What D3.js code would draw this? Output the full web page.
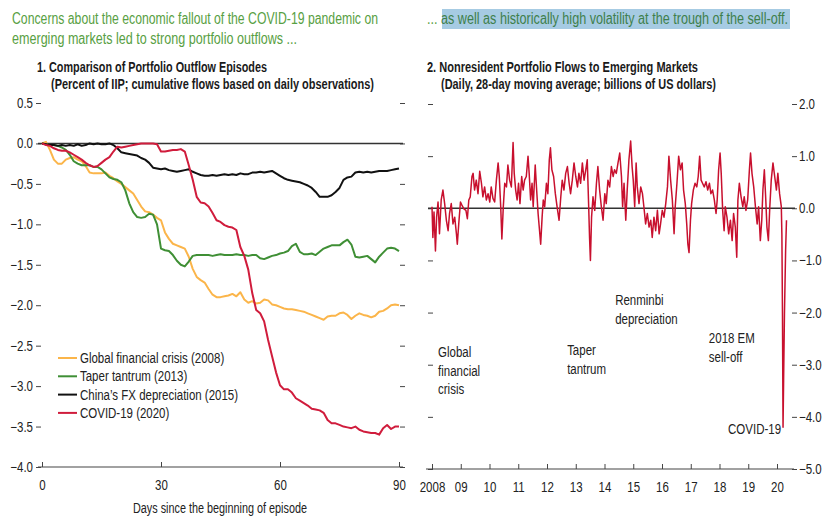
<!DOCTYPE html>
<html>
<head>
<meta charset="utf-8">
<script src="https://cdn.jsdelivr.net/npm/d3@7"></script>
<style>
  body { margin: 0; background: #fff; }
  svg { display: block; font-family: "Liberation Sans", Arial, sans-serif; }
</style>
</head>
<body>
<svg id="chart" width="824" height="520"></svg>
<script>
const width = 824
const height = 520

// headings
const headlineLeft = [
  "Concerns about the economic fallout of the COVID-19 pandemic on",
  "emerging markets led to strong portfolio outflows ...",
]
const headlineRight = "as well as historically high volatility at the trough of the sell-off."
const panel1Title = ["1. Comparison of Portfolio Outflow Episodes", "(Percent of IIP; cumulative flows based on daily observations)"]
const panel2Title = ["2. Nonresident Portfolio Flows to Emerging Markets", "(Daily, 28-day moving average; billions of US dollars)"]

// panel 1: cumulative outflows, percent of IIP, day 0..90
const episodeNames = ["Global financial crisis (2008)", "Taper tantrum (2013)", "China\u2019s FX depreciation (2015)", "COVID-19 (2020)"]
const gfc2008 = [0, 0.02, -0.08, -0.2, -0.25, -0.25, -0.2, -0.18, -0.17, -0.2, -0.22, -0.28, -0.36, -0.37, -0.37, -0.37, -0.36, -0.4, -0.43, -0.47,
  -0.5, -0.54, -0.58, -0.62, -0.7, -0.78, -0.84, -0.85, -0.88, -0.92, -0.95, -1.1, -1.18, -1.24, -1.26, -1.28, -1.3, -1.4, -1.55, -1.65,
  -1.69, -1.72, -1.8, -1.87, -1.9, -1.9, -1.89, -1.88, -1.86, -1.89, -1.84, -1.93, -1.97, -1.95, -1.98, -1.97, -1.93, -1.94, -1.99, -2.0,
  -2.02, -2.04, -2.05, -2.05, -2.06, -2.07, -2.08, -2.1, -2.12, -2.14, -2.16, -2.18, -2.14, -2.13, -2.13, -2.1, -2.09, -2.12, -2.17, -2.13,
  -2.1, -2.12, -2.13, -2.15, -2.13, -2.08, -2.07, -2.04, -2.0, -1.99, -2.0]
const taper2013 = [0, -0.01, -0.02, -0.02, -0.03, -0.05, -0.08, -0.14, -0.22, -0.25, -0.27, -0.27, -0.27, -0.29, -0.29, -0.32, -0.37, -0.42, -0.44, -0.45,
  -0.48, -0.58, -0.74, -0.85, -0.91, -0.92, -0.91, -0.87, -0.88, -1.0, -1.3, -1.32, -1.33, -1.38, -1.45, -1.5, -1.52, -1.46, -1.39, -1.38,
  -1.38, -1.38, -1.38, -1.39, -1.38, -1.37, -1.38, -1.38, -1.38, -1.37, -1.38, -1.38, -1.39, -1.38, -1.38, -1.42, -1.43, -1.41, -1.39, -1.38,
  -1.36, -1.35, -1.33, -1.27, -1.24, -1.34, -1.37, -1.37, -1.36, -1.38, -1.34, -1.3, -1.28, -1.26, -1.26, -1.26, -1.22, -1.19, -1.25, -1.4,
  -1.41, -1.4, -1.39, -1.43, -1.47, -1.4, -1.35, -1.3, -1.29, -1.3, -1.33]
const china2015 = [0, -0.01, -0.02, -0.02, -0.03, -0.02, -0.03, -0.02, -0.03, -0.01, -0.03, -0.02, 0.0, -0.01, 0.0, -0.01, -0.01, 0.0, -0.02, -0.06,
  -0.11, -0.12, -0.13, -0.14, -0.15, -0.18, -0.2, -0.24, -0.3, -0.31, -0.32, -0.31, -0.33, -0.34, -0.35, -0.34, -0.33, -0.32, -0.35, -0.37,
  -0.39, -0.4, -0.4, -0.39, -0.4, -0.39, -0.38, -0.39, -0.38, -0.39, -0.37, -0.38, -0.38, -0.36, -0.36, -0.35, -0.36, -0.35, -0.34, -0.37,
  -0.4, -0.43, -0.45, -0.46, -0.47, -0.48, -0.5, -0.52, -0.55, -0.6, -0.66, -0.66, -0.66, -0.64, -0.6, -0.55, -0.45, -0.42, -0.41, -0.36,
  -0.35, -0.36, -0.35, -0.36, -0.35, -0.34, -0.34, -0.34, -0.33, -0.32, -0.31]
const covid2020 = [0, -0.02, -0.03, -0.06, -0.08, -0.09, -0.09, -0.11, -0.14, -0.17, -0.2, -0.24, -0.27, -0.29, -0.28, -0.24, -0.2, -0.17, -0.1, -0.04,
  -0.05, -0.04, -0.03, -0.02, -0.01, 0.0, 0.0, 0.0, 0.0, -0.01, -0.1, -0.1, -0.09, -0.08, -0.08, -0.07, -0.1, -0.27, -0.45, -0.66,
  -0.73, -0.74, -0.78, -0.86, -0.95, -0.97, -1.01, -1.03, -1.04, -1.07, -1.28, -1.39, -1.56, -1.85, -2.06, -2.1, -2.2, -2.43, -2.63, -2.83,
  -2.99, -3.04, -3.04, -3.08, -3.15, -3.18, -3.21, -3.24, -3.28, -3.29, -3.3, -3.33, -3.42, -3.46, -3.46, -3.48, -3.5, -3.51, -3.52, -3.5,
  -3.54, -3.56, -3.57, -3.58, -3.58, -3.6, -3.52, -3.48, -3.53, -3.5, -3.5]
const dayTicks = [0, 30, 60, 90]
const pctTicks = [0.5, 0, -0.5, -1, -1.5, -2, -2.5, -3, -3.5, -4]

// panel 2: nonresident flows, billions of US dollars (decimal year, value)
const flowYears = [
  2008.0, 2008.03, 2008.07, 2008.12, 2008.16, 2008.21, 2008.26, 2008.32, 2008.38, 2008.44, 2008.5, 2008.56, 2008.61, 2008.67, 2008.73, 2008.79, 2008.85, 2008.88, 2008.93, 2008.99,
  2009.04, 2009.11, 2009.18, 2009.23, 2009.28, 2009.33, 2009.39, 2009.43, 2009.48, 2009.54, 2009.6, 2009.66, 2009.72, 2009.77, 2009.83, 2009.89, 2009.95,
  2010.01, 2010.06, 2010.12, 2010.18, 2010.24, 2010.3, 2010.34, 2010.39, 2010.43, 2010.48, 2010.53, 2010.59, 2010.64, 2010.7, 2010.76, 2010.82, 2010.86, 2010.91, 2010.96,
  2011.01, 2011.06, 2011.12, 2011.17, 2011.22, 2011.28, 2011.34, 2011.38, 2011.43, 2011.48, 2011.52, 2011.59, 2011.64, 2011.69, 2011.73, 2011.78, 2011.83, 2011.87, 2011.92, 2011.98,
  2012.03, 2012.08, 2012.12, 2012.17, 2012.23, 2012.29, 2012.35, 2012.42, 2012.48, 2012.53, 2012.59, 2012.65, 2012.71, 2012.77, 2012.82, 2012.88, 2012.94,
  2013.0, 2013.06, 2013.11, 2013.17, 2013.23, 2013.29, 2013.35, 2013.4, 2013.45, 2013.48, 2013.51, 2013.55, 2013.6, 2013.66, 2013.72, 2013.77, 2013.83, 2013.89, 2013.95,
  2014.01, 2014.06, 2014.12, 2014.18, 2014.24, 2014.3, 2014.35, 2014.41, 2014.47, 2014.53, 2014.59, 2014.63, 2014.68, 2014.74, 2014.79, 2014.85, 2014.91, 2014.96,
  2015.0, 2015.05, 2015.1, 2015.14, 2015.2, 2015.26, 2015.32, 2015.37, 2015.43, 2015.49, 2015.55, 2015.61, 2015.66, 2015.72, 2015.78, 2015.84, 2015.9, 2015.95,
  2016.01, 2016.07, 2016.13, 2016.19, 2016.24, 2016.3, 2016.36, 2016.42, 2016.46, 2016.52, 2016.58, 2016.64, 2016.7, 2016.75, 2016.81, 2016.86, 2016.9, 2016.94, 2016.99,
  2017.03, 2017.09, 2017.15, 2017.21, 2017.26, 2017.31, 2017.36, 2017.41, 2017.47, 2017.53, 2017.59, 2017.65, 2017.7, 2017.76, 2017.82, 2017.88, 2017.92, 2017.97,
  2018.02, 2018.06, 2018.11, 2018.16, 2018.2, 2018.26, 2018.32, 2018.38, 2018.44, 2018.49, 2018.55, 2018.6, 2018.64, 2018.69, 2018.75, 2018.81, 2018.86, 2018.92, 2018.98,
  2019.04, 2019.08, 2019.13, 2019.19, 2019.25, 2019.31, 2019.36, 2019.42, 2019.47, 2019.51, 2019.56, 2019.61, 2019.65, 2019.7, 2019.75, 2019.8, 2019.86, 2019.92, 2019.98,
  2020.03, 2020.09, 2020.15, 2020.17, 2020.19, 2020.21, 2020.23, 2020.26, 2020.3, 2020.33,
]
const flowValues = [
  0.03, -0.56, -0.07, -0.82, -0.17, 0.12, -0.49, 0.16, 0.35, 0.09, -0.23, -0.43, -0.1, 0.09, -0.3, -0.17, -0.49, -0.69, -0.3, 0.12,
  0.06, -0.01, -0.04, -0.2, 0.16, 0.22, 0.61, 0.67, 0.35, 0.54, 0.28, 0.71, 0.48, 0.22, 0.41, 0.16, 0.28,
  0.12, 0.41, 0.19, 0.12, 0.54, 0.87, 0.61, 0.03, -0.59, 0.03, 0.48, 0.41, 0.83, 0.54, 0.41, 1.26, 0.67, 0.35, 0.16,
  0.48, 0.09, 0.61, 0.35, 0.54, 0.61, 1.0, 0.67, 0.16, 0.48, 0.03, 0.83, 0.35, -0.1, -0.36, -0.69, -0.17, 0.16, 0.03, 0.48,
  0.28, 0.93, 1.16, 0.74, 0.61, 0.28, 0.03, -0.23, 0.22, 0.54, 0.35, 0.67, 0.8, 0.48, 0.28, 0.54, 0.87,
  0.61, 0.41, 0.67, 0.48, 0.87, 0.54, 0.74, 0.93, 0.03, -0.56, -1.0, -0.17, 0.22, -0.04, 0.48, 0.8, 0.35, 0.03, -0.23,
  0.28, 0.09, 0.54, 0.41, 0.8, 0.61, 0.74, 0.67, 0.87, 1.06, 0.61, 0.03, 0.48, -0.23, 0.35, 0.93, 1.29, 0.8,
  0.54, 0.03, 0.87, 0.41, 0.09, 0.41, 0.28, 0.03, -0.3, -0.1, -0.36, -0.23, -0.56, -0.17, -0.43, -0.04, -0.49, -0.3,
  -0.04, -0.17, 0.09, 0.41, 1.0, 0.54, 0.16, -0.49, 0.03, 0.48, 1.0, 0.74, 0.87, 0.35, 0.09, -0.3, -0.69, -0.85, -0.23,
  0.09, 0.35, 0.48, 0.41, 0.61, 1.0, 0.54, 0.48, 0.41, 0.51, 0.35, 0.48, 0.28, 0.35, 0.16, -0.1, 0.16, 0.74,
  1.06, 0.67, -0.04, -0.43, 0.03, -0.17, -0.49, -0.23, -0.62, -0.1, -0.36, -0.94, 0.16, 0.48, 0.22, 0.03, 0.22, -0.04, 0.16,
  0.74, 1.06, 0.67, 0.41, 0.03, -0.3, 0.03, -0.62, -0.23, 0.35, 0.74, 0.16, -0.36, -0.62, 0.03, 0.54, 0.87, 0.61, 0.35,
  0.67, 0.28, 0.03, -0.5, -2.0, -4.2, -3.3, -2.0, -0.8, -0.23,
]
const yearTicks = [2008, 2009, 2010, 2011, 2012, 2013, 2014, 2015, 2016, 2017, 2018, 2019, 2020]
const yearLabels = ["2008", "09", "10", "11", "12", "13", "14", "15", "16", "17", "18", "19", "20"]
const flowTicks = [2, 1, 0, -1, -2, -3, -4, -5]
const eventNames = [["Global", "financial", "crisis"], ["Taper", "tantrum"], ["Renminbi", "depreciation"], ["2018 EM", "sell-off"], ["COVID-19"]]
const eventYears = [2008.21, 2012.7, 2014.37, 2017.63, 2020.14]
const eventValues = [-2.86, -2.82, -1.86, -2.59, -4.33]

const episodeColors = ["#fbb54a", "#3f8f35", "#111111", "#d01c3c"]
const green = "#58a043"
const axisColor = "#444"
const narrow = 0.82 // squeeze Liberation Sans to a narrow face

const svg = d3.select("#chart")
svg.append("rect").attr("width", width).attr("height", height).attr("fill", "#fff")

// headlines
headlineLeft.forEach((t, i) => {
  svg.append("text")
    .attr("x", 12).attr("y", 24 + i * 20)
    .attr("font-size", 16).attr("fill", green)
    .attr("textLength", i === 0 ? 366 : 285).attr("lengthAdjust", "spacingAndGlyphs")
    .text(t)
})
svg.append("rect").attr("x", 442).attr("y", 9).attr("width", 348).attr("height", 20).attr("fill", "#a6cbe3")
const hr = svg.append("text")
  .attr("x", 427).attr("y", 24)
  .attr("font-size", 16)
  .attr("textLength", 361).attr("lengthAdjust", "spacingAndGlyphs")
hr.append("tspan").attr("fill", green).text("... ")
hr.append("tspan").attr("fill", "#3e7f4c").text(headlineRight)

function panelTitle(lines, x, widths) {
  lines.forEach((t, i) => {
    svg.append("text")
      .attr("x", x + (i ? 14 : 0)).attr("y", 72 + i * 17)
      .attr("font-size", 14).attr("font-weight", "bold").attr("fill", "#1a1a1a")
      .attr("textLength", widths[i]).attr("lengthAdjust", "spacingAndGlyphs")
      .text(t)
  })
}
panelTitle(panel1Title, 37, [230, 323])
panelTitle(panel2Title, 427, [271, 275])

function styleAxis(g) {
  g.select(".domain").remove()
  g.selectAll(".tick line").attr("stroke", axisColor)
  g.selectAll(".tick text").attr("font-size", 14).attr("fill", "#222").attr("font-family", null)
}

// ---------- panel 1 ----------
const xL = d3.scaleLinear().domain([0, 90]).range([42, 399])
const yL = d3.scaleLinear().domain([-4, 0.5]).range([467, 103])
const fmt = d3.format(".1f")

svg.append("g").attr("transform", "translate(41,0)")
  .call(d3.axisLeft(yL).tickValues(pctTicks).tickSize(5).tickPadding(3).tickFormat(fmt))
  .call(styleAxis)
svg.append("g").attr("transform", "translate(400,0)")
  .call(d3.axisRight(yL).tickValues(pctTicks).tickSize(5).tickFormat(""))
  .call(styleAxis)

svg.append("line")
  .attr("x1", 38).attr("x2", 403).attr("y1", yL(0)).attr("y2", yL(0))
  .attr("stroke", "#333").attr("stroke-width", 1.5)

svg.append("line")
  .attr("x1", 38).attr("x2", 403).attr("y1", yL(-4)).attr("y2", yL(-4))
  .attr("stroke", axisColor).attr("stroke-width", 1.2)
svg.append("g").attr("transform", `translate(0,${yL(-4)})`)
  .call(d3.axisBottom(xL).tickValues(dayTicks).tickSizeInner(-5).tickSizeOuter(0).tickPadding(13))
  .call(styleAxis)

svg.append("text")
  .attr("x", 220).attr("y", 513).attr("text-anchor", "middle")
  .attr("font-size", 14).attr("fill", "#222")
  .attr("textLength", 174).attr("lengthAdjust", "spacingAndGlyphs")
  .text("Days since the beginning of episode")

const line1 = d3.line().x((d, i) => xL(i)).y((d) => yL(d))
const episodes = [gfc2008, taper2013, china2015, covid2020]
svg.append("g")
  .selectAll("path")
  .data(episodes)
  .join("path")
  .attr("d", line1)
  .attr("fill", "none")
  .attr("stroke", (d, i) => episodeColors[i])
  .attr("stroke-width", 2)
  .attr("stroke-linejoin", "round")

const legend = svg.append("g")
episodeNames.forEach((name, i) => {
  const y = 358 + i * 18.3
  legend.append("line")
    .attr("x1", 58).attr("x2", 77).attr("y1", y).attr("y2", y)
    .attr("stroke", episodeColors[i]).attr("stroke-width", 2)
  legend.append("text")
    .attr("x", 80).attr("y", y + 5)
    .attr("font-size", 14).attr("fill", "#222")
    .text(name)
})

// ---------- panel 2 ----------
const xR = d3.scaleLinear().domain([2008, 2020]).range([432, 777])
const yR = d3.scaleLinear().domain([-5, 2]).range([469, 104])

svg.append("g").attr("transform", "translate(433,0)")
  .call(d3.axisLeft(yR).tickValues(flowTicks).tickSize(5).tickFormat(""))
  .call(styleAxis)
svg.append("g").attr("transform", "translate(792,0)")
  .call(d3.axisRight(yR).tickValues(flowTicks).tickSize(5).tickPadding(2).tickFormat(fmt))
  .call(styleAxis)

svg.append("line")
  .attr("x1", 428).attr("x2", 795).attr("y1", yR(0)).attr("y2", yR(0))
  .attr("stroke", "#333").attr("stroke-width", 1.5)

svg.append("line")
  .attr("x1", 426).attr("x2", 794).attr("y1", yR(-5)).attr("y2", yR(-5))
  .attr("stroke", axisColor).attr("stroke-width", 1.2)
svg.append("g").attr("transform", `translate(0,${yR(-5)})`)
  .call(d3.axisBottom(xR).tickValues(yearTicks).tickSizeInner(-5).tickSizeOuter(0).tickPadding(13)
    .tickFormat((d, i) => yearLabels[i]))
  .call(styleAxis)

const flows = flowYears.map((y, i) => [y, flowValues[i]])
svg.append("path")
  .datum(flows)
  .attr("d", d3.line().x((d) => xR(d[0])).y((d) => yR(d[1])))
  .attr("fill", "none")
  .attr("stroke", "#c8102e")
  .attr("stroke-width", 1.5)
  .attr("stroke-linejoin", "round")

eventNames.forEach((lines, i) => {
  lines.forEach((l, j) => {
    svg.append("text")
      .attr("x", xR(eventYears[i])).attr("y", yR(eventValues[i]) + j * 18.5)
      .attr("font-size", 14).attr("fill", "#222")
      .attr("text-anchor", i === 4 ? "end" : "start")
      .text(l)
  })
})

// condense every text that has no fixed length
svg.selectAll("text").each(function () {
  if (this.hasAttribute("textLength")) return
  const w = this.getComputedTextLength()
  d3.select(this).attr("textLength", w * narrow).attr("lengthAdjust", "spacingAndGlyphs")
})
</script>
</body>
</html>
